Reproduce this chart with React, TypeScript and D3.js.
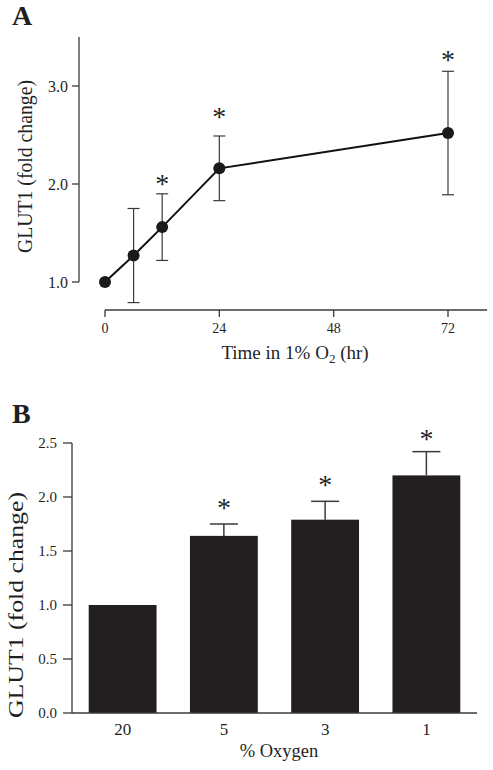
import React from "react";
import * as d3 from "d3";

// Panel A data: time course in 1% O2
const timeHours = [0, 6, 12, 24, 72];
const timeMean = [1.0, 1.27, 1.56, 2.16, 2.52];
const timeErr = [0, 0.48, 0.34, 0.33, 0.63];
const timeStarLevel = [null, null, 2.05, 2.73, 3.32];
const timeTicks = [0, 24, 48, 72];
const timeYTicks = [1.0, 2.0, 3.0];

// Panel B data: oxygen levels
const oxygenCats = ["20", "5", "3", "1"];
const oxygenMean = [1.0, 1.64, 1.79, 2.2];
const oxygenErr = [0, 0.11, 0.17, 0.22];
const oxygenStarLevel = [null, 1.94, 2.16, 2.58];
const oxygenYTicks = [0.0, 0.5, 1.0, 1.5, 2.0, 2.5];

const FONT = '"Liberation Serif", Tinos, "Times New Roman", Times, serif';
const AXIS = "#3a3a3a";
const INK = "#1f1f1f";

export default function App() {
  // Panel A scales
  const xA = d3.scaleLinear().domain([0, 72]).range([105, 448]);
  const yA = d3.scaleLinear().domain([1, 3.5]).range([282, 37]);
  const xAxisY = 310;
  const xAxisEnd = xA(80.2);
  const line = d3
    .line<number>()
    .x((_, i) => xA(timeHours[i]))
    .y((d) => yA(d));

  // Panel B scales
  const xB = d3
    .scaleBand<string>()
    .domain(oxygenCats)
    .range([72, 477])
    .paddingInner(0.33)
    .paddingOuter(0.165);
  const yB = d3.scaleLinear().domain([0, 2.5]).range([713, 443]);

  return (
    <svg
      width={493}
      height={770}
      style={{ position: "absolute", left: 0, top: 0, background: "#fff", fontFamily: FONT }}
    >
      {/* ---------- Panel A ---------- */}
      <text x={12} y={25} fontSize={28} fontWeight="bold" fill={INK}>
        A
      </text>
      {/* y axis */}
      <line x1={79} x2={79} y1={yA(3.5)} y2={yA(1)} stroke={AXIS} strokeWidth={1.3} />
      {timeYTicks.map((t) => (
        <g key={t}>
          <line x1={72} x2={79} y1={yA(t)} y2={yA(t)} stroke={AXIS} strokeWidth={1.3} />
          <text
            x={68}
            y={yA(t)}
            dy="0.35em"
            textAnchor="end"
            fontSize={16}
            fill={INK}
          >
            {t.toFixed(1)}
          </text>
        </g>
      ))}
      <text
        transform={`translate(32, ${(80 + 253) / 2}) rotate(-90)`}
        textAnchor="middle"
        fontSize={20}
        fill={INK}
        textLength={173}
        lengthAdjust="spacingAndGlyphs"
      >
        GLUT1 (fold change)
      </text>
      {/* x axis */}
      <line x1={xA(0)} x2={xAxisEnd} y1={xAxisY} y2={xAxisY} stroke={AXIS} strokeWidth={1.3} />
      {timeTicks.map((t) => (
        <g key={t}>
          <line x1={xA(t)} x2={xA(t)} y1={xAxisY} y2={xAxisY + 7} stroke={AXIS} strokeWidth={1.3} />
          <text x={xA(t)} y={333} textAnchor="middle" fontSize={14} fill={INK}>
            {t}
          </text>
        </g>
      ))}
      <text x={295} y={359} textAnchor="middle" fontSize={19} fill={INK}>
        Time in 1% O
        <tspan fontSize={13} dy={4}>
          2
        </tspan>
        <tspan dy={-4}> (hr)</tspan>
      </text>
      {/* error bars */}
      {timeHours.map((t, i) =>
        timeErr[i] > 0 ? (
          <g key={t} stroke={AXIS} strokeWidth={1.2}>
            <line
              x1={xA(t)}
              x2={xA(t)}
              y1={yA(timeMean[i] + timeErr[i])}
              y2={yA(timeMean[i] - timeErr[i])}
            />
            <line
              x1={xA(t) - 6}
              x2={xA(t) + 6}
              y1={yA(timeMean[i] + timeErr[i])}
              y2={yA(timeMean[i] + timeErr[i])}
            />
            <line
              x1={xA(t) - 6}
              x2={xA(t) + 6}
              y1={yA(timeMean[i] - timeErr[i])}
              y2={yA(timeMean[i] - timeErr[i])}
            />
          </g>
        ) : null
      )}
      <path d={line(timeMean) || ""} fill="none" stroke="#111" strokeWidth={2} />
      {timeHours.map((t, i) => (
        <circle key={t} cx={xA(t)} cy={yA(timeMean[i])} r={6} fill="#1a1a1a" />
      ))}
      {timeHours.map((t, i) =>
        timeStarLevel[i] != null ? (
          <text
            key={t}
            x={xA(t)}
            y={yA(timeStarLevel[i] as number) + 14}
            textAnchor="middle"
            fontSize={28}
            fill={INK}
          >
            *
          </text>
        ) : null
      )}

      {/* ---------- Panel B ---------- */}
      <text x={12} y={423} fontSize={28} fontWeight="bold" fill={INK}>
        B
      </text>
      {/* bars */}
      {oxygenCats.map((c, i) => (
        <rect
          key={c}
          x={xB(c)}
          y={yB(oxygenMean[i])}
          width={xB.bandwidth()}
          height={yB(0) - yB(oxygenMean[i])}
          fill="#231f20"
        />
      ))}
      {/* error bars (upper only) */}
      {oxygenCats.map((c, i) => {
        if (oxygenErr[i] <= 0) return null;
        const cx = (xB(c) as number) + xB.bandwidth() / 2;
        return (
          <g key={c} stroke={AXIS} strokeWidth={1.5}>
            <line x1={cx} x2={cx} y1={yB(oxygenMean[i])} y2={yB(oxygenMean[i] + oxygenErr[i])} />
            <line
              x1={cx - 14}
              x2={cx + 14}
              y1={yB(oxygenMean[i] + oxygenErr[i])}
              y2={yB(oxygenMean[i] + oxygenErr[i])}
            />
          </g>
        );
      })}
      {oxygenCats.map((c, i) =>
        oxygenStarLevel[i] != null ? (
          <text
            key={c}
            x={(xB(c) as number) + xB.bandwidth() / 2}
            y={yB(oxygenStarLevel[i] as number) + 14}
            textAnchor="middle"
            fontSize={28}
            fill={INK}
          >
            *
          </text>
        ) : null
      )}
      {/* axes */}
      <line x1={72} x2={72} y1={yB(2.5)} y2={yB(0)} stroke={AXIS} strokeWidth={1.3} />
      <line x1={72} x2={477} y1={yB(0)} y2={yB(0)} stroke={AXIS} strokeWidth={1.3} />
      {oxygenYTicks.map((t) => (
        <g key={t}>
          <line x1={63} x2={72} y1={yB(t)} y2={yB(t)} stroke={AXIS} strokeWidth={1.3} />
          <text x={57} y={yB(t)} dy="0.35em" textAnchor="end" fontSize={15} fill={INK}>
            {t.toFixed(1)}
          </text>
        </g>
      ))}
      {oxygenCats.map((c) => (
        <text
          key={c}
          x={(xB(c) as number) + xB.bandwidth() / 2}
          y={735}
          textAnchor="middle"
          fontSize={17}
          fill={INK}
        >
          {c}
        </text>
      ))}
      <text x={279} y={757} textAnchor="middle" fontSize={18.5} fill={INK}>
        % Oxygen
      </text>
      <text
        transform={`translate(23, ${(492 + 718) / 2}) rotate(-90)`}
        textAnchor="middle"
        fontSize={22}
        fill={INK}
        textLength={226}
        lengthAdjust="spacingAndGlyphs"
      >
        GLUT1 (fold change)
      </text>
    </svg>
  );
}
